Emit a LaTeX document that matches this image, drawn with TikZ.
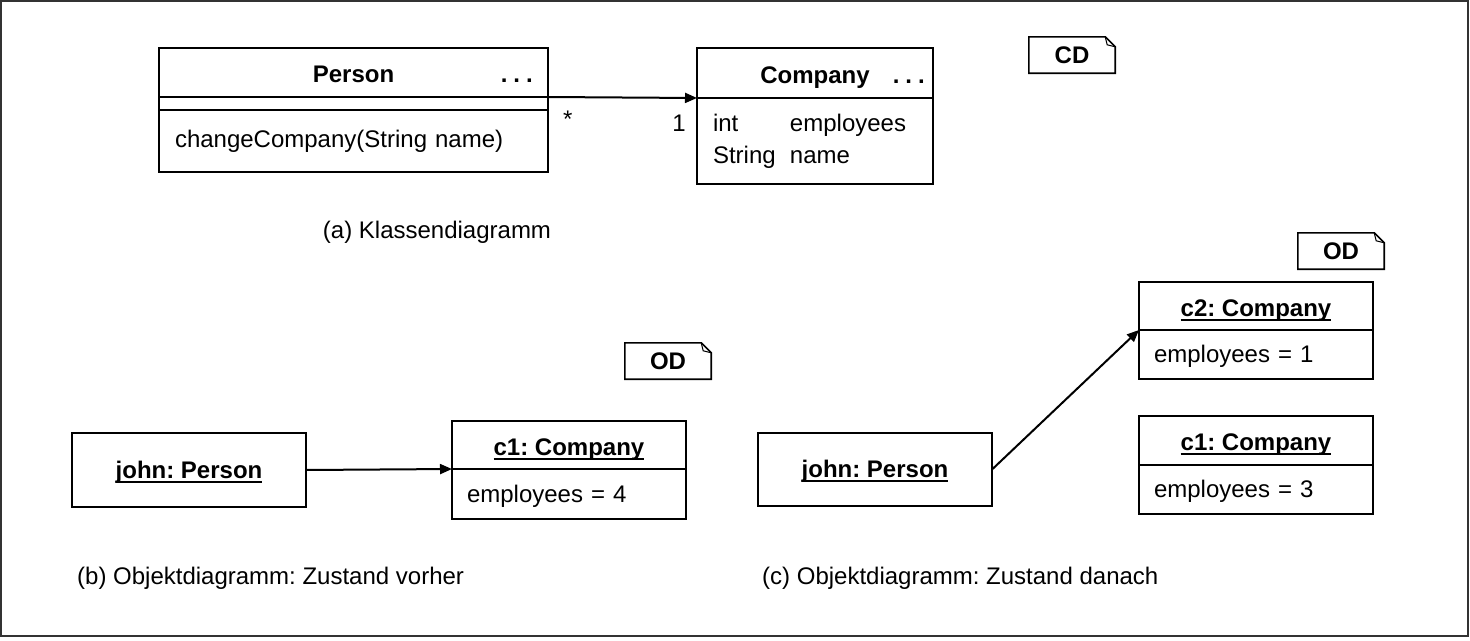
\documentclass[tikz,border=0pt]{standalone}
\usepackage{fontspec}
\setmainfont{Liberation Sans}
\usepackage{xcolor}
\usetikzlibrary{arrows.meta,positioning,calc}
\definecolor{FrameGray}{HTML}{333333}
\newcommand{\umltxt}{\fontsize{24}{32}\selectfont}
\newsavebox{\objbox}
\newcommand{\objname}[1]{\sbox{\objbox}{#1}\usebox{\objbox}%
  \llap{\rule[-4.5pt]{\wd\objbox}{1.6pt}}}
\newcommand{\tagframe}[1]{%
  \draw[tagline] (#1.south west) -- (#1.north west)
    -- ($(#1.north east)+(-10pt,0)$) -- ($(#1.north east)+(0,-10pt)$)
    -- (#1.south east) -- cycle;
  \draw[tagline,line width=1pt] ($(#1.north east)+(-10pt,0)$)
    -- ($(#1.north east)+(-8pt,-8pt)$) -- ($(#1.north east)+(0,-10pt)$);}

\begin{document}
\frenchspacing
\begin{tikzpicture}[x=1pt,y=-1pt,
  box/.style={rectangle,draw,line width=1.8pt,inner sep=0pt,outer sep=0pt,
              minimum width=234pt},
  head/.style={box,font=\umltxt\bfseries,text height=20pt,text depth=0pt},
  obj/.style={box,font=\umltxt\bfseries,text height=20pt,text depth=4pt},
  cmp/.style={box,font=\umltxt,align=left,text width=204pt,inner xsep=15pt},
  val/.style={cmp,text height=18pt,text depth=2pt},
  dots/.style={inner sep=0pt,font=\umltxt\bfseries},
  mult/.style={inner sep=0pt,font=\umltxt},
  tag/.style={minimum width=86pt,minimum height=36pt,inner sep=0pt,
              font=\umltxt\bfseries},
  tagline/.style={line width=1.6pt},
  caption/.style={inner sep=0pt,font=\umltxt},
  assoc/.style={-{Triangle[length=12pt,width=10pt]},line width=2pt}]
\useasboundingbox (0,0) rectangle (1470,640);
\draw[line width=2pt,FrameGray] (1,1) rectangle (1468,636);
\node[head,minimum width=389pt,minimum height=49pt] (personH) at (353.5,72.5) {Person};
\node[dots,anchor=base east] (personDots) at ($(personH.base east)+(-15pt,0)$)
  {.\hspace{6pt}.\hspace{6pt}.};
\node[box,minimum width=389pt,minimum height=13pt,below=0pt of personH] (personA) {};
\node[cmp,text width=357pt,inner xsep=16pt,minimum height=62pt,
  below=0pt of personA] (personM) {changeCompany(String name)};
\node[head,minimum width=236pt,minimum height=50pt] (companyH) at (815,73) {Company};
\node[dots,anchor=base east] (companyDots) at ($(companyH.base east)+(-8pt,0)$)
  {.\hspace{6pt}.\hspace{6pt}.};
\node[cmp,inner xsep=16pt,minimum height=86pt,below=0pt of companyH] (companyA)
  {\makebox[77pt][l]{int}employees\\\makebox[77pt][l]{String}name};
\draw[assoc] (personH.south east) -- (companyH.south west);
\node[mult,below right=14pt and 15pt of personH.south east] (multMany) {*};
\node[mult,below left=17pt and 11pt of companyH.south west] (multOne) {1};
\node[tag] (cdTag) at (1072,55) {CD};
\tagframe{cdTag}
\node[caption] (capA) at (437,232) {(a) Klassendiagramm};
\node[tag] (odTagB) at (668,361) {OD};
\tagframe{odTagB}
\node[obj,minimum height=74pt] (johnB) at (189,470) {\objname{john: Person}};
\node[head,minimum height=48pt] (c1bH) at (569,445) {\objname{c1: Company}};
\node[val,minimum height=50pt,below=0pt of c1bH] (c1bA) {employees = 4};
\draw[assoc] (johnB.east) -- (c1bH.south west);
\node[caption,anchor=west] (capB) at (77,578) {(b) Objektdiagramm: Zustand vorher};
\node[tag] (odTagC) at (1341,251) {OD};
\tagframe{odTagC}
\node[obj,minimum height=73pt] (johnC) at (875,469.5) {\objname{john: Person}};
\node[head,minimum height=48pt] (c2cH) at (1256,306) {\objname{c2: Company}};
\node[val,minimum height=49pt,below=0pt of c2cH] (c2cA) {employees = 1};
\node[head,minimum height=49pt] (c1cH) at (1256,440.5) {\objname{c1: Company}};
\node[val,minimum height=49pt,below=0pt of c1cH] (c1cA) {employees = 3};
\draw[assoc] (johnC.east) -- (c2cH.south west);
\node[caption,anchor=west] (capC) at (762,578) {(c) Objektdiagramm: Zustand danach};
\end{tikzpicture}
\end{document}
